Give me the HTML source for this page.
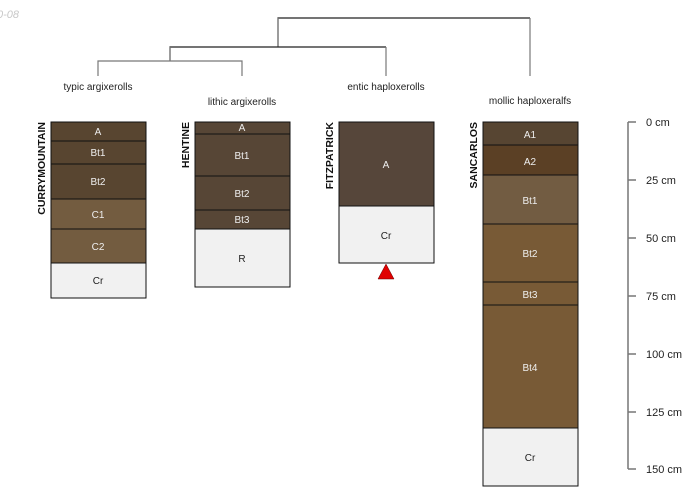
<!DOCTYPE html>
<html><head><meta charset="utf-8"><style>
html,body{margin:0;padding:0;background:#fff;width:700px;height:500px;overflow:hidden}
text{font-family:"Liberation Sans",sans-serif}
</style></head><body>
<svg width="700" height="500" viewBox="0 0 700 500" xmlns="http://www.w3.org/2000/svg">
<text x="-3" y="18" font-size="11" font-style="italic" fill="#c8c8c8">0-08</text>
<!-- dendrogram -->
<g fill="none" stroke-width="1.2">
<path d="M278 47 V18 H530" stroke="#222"/>
<path d="M530 18 V76" stroke="#777"/>
<path d="M278 18 V47" stroke="#777"/>
<path d="M170 61 V47 H386" stroke="#222"/>
<path d="M386 47 V76" stroke="#777"/>
<path d="M170 47 V61" stroke="#777"/>
<path d="M98 76 V61 H242 V76" stroke="#777"/>
</g>
<g font-size="10" fill="#222" text-anchor="middle">
<text x="98" y="90">typic argixerolls</text>
<text x="242" y="105">lithic argixerolls</text>
<text x="386" y="90">entic haploxerolls</text>
<text x="530" y="104">mollic haploxeralfs</text>
</g>
<!-- profiles -->
<g stroke="#111" stroke-width="1">
<rect x="51" y="122" width="95" height="19" fill="#584530"/>
<rect x="51" y="141" width="95" height="23" fill="#584530"/>
<rect x="51" y="164" width="95" height="35" fill="#584530"/>
<rect x="51" y="199" width="95" height="30" fill="#735c40"/>
<rect x="51" y="229" width="95" height="34" fill="#735c40"/>
<rect x="51" y="263" width="95" height="35" fill="#f1f1f1"/>

<rect x="195" y="122" width="95" height="12" fill="#574636"/>
<rect x="195" y="134" width="95" height="42" fill="#574636"/>
<rect x="195" y="176" width="95" height="34" fill="#574636"/>
<rect x="195" y="210" width="95" height="19" fill="#574636"/>
<rect x="195" y="229" width="95" height="58" fill="#f1f1f1"/>

<rect x="339" y="122" width="95" height="84" fill="#56463a"/>
<rect x="339" y="206" width="95" height="57" fill="#f1f1f1"/>

<rect x="483" y="122" width="95" height="23" fill="#574532"/>
<rect x="483" y="145" width="95" height="30" fill="#5b4025"/>
<rect x="483" y="175" width="95" height="49" fill="#725c42"/>
<rect x="483" y="224" width="95" height="58" fill="#785a36"/>
<rect x="483" y="282" width="95" height="23" fill="#785a36"/>
<rect x="483" y="305" width="95" height="123" fill="#785a36"/>
<rect x="483" y="428" width="95" height="58" fill="#f1f1f1"/>
</g>
<polygon points="386,264 378,279 394,279" fill="#e00000" stroke="#600" stroke-width="0.5"/>
<g font-size="10" text-anchor="middle" fill="#eee">
<text x="98" y="135">A</text><text x="98" y="156">Bt1</text><text x="98" y="185">Bt2</text>
<text x="98" y="218">C1</text><text x="98" y="250">C2</text>
<text x="98" y="284" fill="#222">Cr</text>
<text x="242" y="131">A</text><text x="242" y="159">Bt1</text><text x="242" y="197">Bt2</text>
<text x="242" y="223">Bt3</text><text x="242" y="262" fill="#222">R</text>
<text x="386" y="168">A</text><text x="386" y="239" fill="#222">Cr</text>
<text x="530" y="138">A1</text><text x="530" y="165">A2</text><text x="530" y="204">Bt1</text>
<text x="530" y="257">Bt2</text><text x="530" y="298">Bt3</text><text x="530" y="371">Bt4</text>
<text x="530" y="461" fill="#222">Cr</text>
</g>
<g font-size="10.5" font-weight="bold" fill="#111" text-anchor="end">
<text transform="translate(45,122) rotate(-90)">CURRYMOUNTAIN</text>
<text transform="translate(189,122) rotate(-90)">HENTINE</text>
<text transform="translate(333,122) rotate(-90)">FITZPATRICK</text>
<text transform="translate(477,122) rotate(-90)">SANCARLOS</text>
</g>
<!-- scale -->
<g stroke="#777" stroke-width="1.5" fill="none">
<path d="M628 122 V469"/>
<path d="M628 122 H636 M628 180 H636 M628 238 H636 M628 296 H636 M628 354 H636 M628 412 H636 M628 469 H636"/>
</g>
<g font-size="11" fill="#222">
<text x="646" y="126">0 cm</text><text x="646" y="184">25 cm</text><text x="646" y="242">50 cm</text>
<text x="646" y="300">75 cm</text><text x="646" y="358">100 cm</text><text x="646" y="416">125 cm</text>
<text x="646" y="473">150 cm</text>
</g>
</svg>
</body></html>
